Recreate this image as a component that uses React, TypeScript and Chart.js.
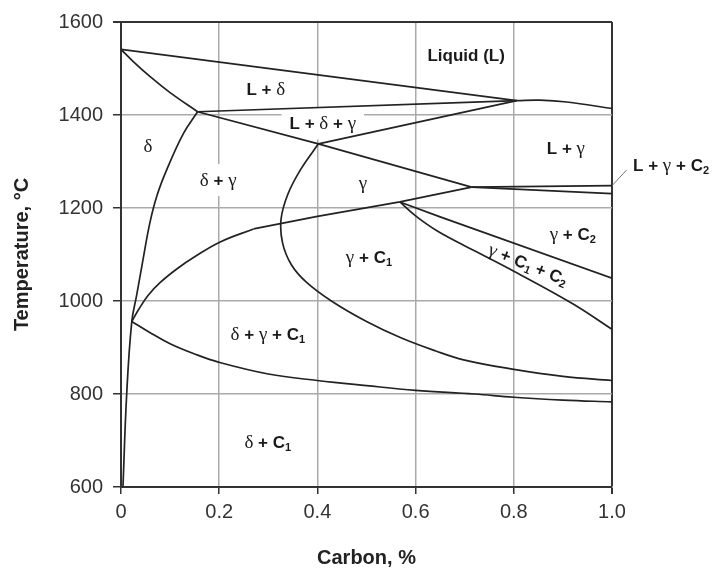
import React, { useEffect, useRef } from 'react';
import { Chart, registerables } from 'chart.js';

Chart.register(...registerables);

// ---- Axis ticks ----
const xTickLabels = ['0', '0.2', '0.4', '0.6', '0.8', '1.0'];
const yTickLabels = ['600', '800', '1000', '1200', '1400', '1600'];

// ---- Phase boundary curves (carbon %, temperature °C) ----
const liquidusX = [0, 0.806];
const liquidusT = [1541, 1431];
const liquidus2X = [0.806, 0.853, 0.908, 1.0];
const liquidus2T = [1431, 1432, 1428, 1414];
const deltaSolidusX = [0, 0.025, 0.06, 0.1, 0.156];
const deltaSolidusT = [1541, 1515, 1482, 1448, 1407];
const peritecticX = [0.156, 0.806];
const peritecticT = [1407, 1431];
const gammaSolidusX = [0.156, 0.402, 0.714];
const gammaSolidusT = [1407, 1338, 1245];
const ldgX = [0.402, 0.806];
const ldgT = [1338, 1431];
const sliverUpperX = [0.714, 1.0];
const sliverUpperT = [1245, 1248];
const sliverLowerX = [0.714, 1.0];
const sliverLowerT = [1245, 1231];
const deltaBoundaryX = [0.156, 0.127, 0.093, 0.073, 0.059, 0.045, 0.032, 0.022, 0.0116, 0.004];
const deltaBoundaryT = [1407, 1360, 1282, 1226, 1169, 1090, 1013, 956, 800, 600];
const c1SolvusX = [0.022, 0.035, 0.055, 0.08, 0.115, 0.15, 0.2, 0.27];
const c1SolvusT = [956, 980, 1012, 1040, 1070, 1095, 1126, 1155];
const c1Solvus2X = [0.27, 0.4, 0.568, 0.714];
const c1Solvus2T = [1155, 1182, 1213, 1245];
const c2UpperX = [0.568, 0.65, 1.0];
const c2UpperT = [1213, 1181, 1049];
const c2LowerX = [0.568, 0.6, 0.645, 0.72, 0.8, 0.92, 1.0];
const c2LowerT = [1213, 1183, 1150, 1108, 1064, 994, 939];
const gammaCurveX = [0.402, 0.366, 0.34, 0.326, 0.329, 0.347, 0.378, 0.43, 0.5, 0.57, 0.64, 0.7, 0.8, 0.9, 1.0];
const gammaCurveT = [1338, 1283, 1230, 1176, 1125, 1078, 1040, 999, 956, 921, 893, 873, 853, 838, 829];
const deltaC1X = [0.022, 0.056, 0.1, 0.15, 0.2, 0.3, 0.4, 0.5, 0.6, 0.72, 0.8, 0.9, 1.0];
const deltaC1T = [956, 934, 908, 886, 868, 843, 829, 818, 808, 800, 793, 787, 783];
const leaderX = [1.0, 1.03];
const leaderT = [1248, 1282];

// ---- Region labels ----
const labelText = ['Liquid (L)', 'L + δ', 'L + δ + γ', 'δ', 'δ + γ', 'γ', 'L + γ', 'L + γ + C2', 'γ + C2', 'γ + C1 + C2', 'γ + C1', 'δ + γ + C1', 'δ + C1'];
const labelX = [0.703, 0.295, 0.411, 0.055, 0.198, 0.493, 0.906, 1.043, 0.92, 0.829, 0.505, 0.299, 0.299];
const labelT = [1529, 1456, 1382, 1333, 1260, 1254, 1328, 1293, 1144, 1079, 1094, 928, 696];

// label styling (by index)
const boxedLabels = new Set([0, 2, 4]);
const leftAlignedLabels = new Set([7]);
const rotatedLabels: Record<number, number> = { 9: 22 };

const LINE = '#222';

function pts(xs: number[], ys: number[]) {
  return xs.map((x, i) => ({ x, y: ys[i] }));
}

type Seg = { kind: 'b' | 'g' | 's'; text: string };
function segments(text: string): Seg[] {
  const segs: Seg[] = [];
  for (let i = 0; i < text.length; i++) {
    const ch = text[i];
    let kind: Seg['kind'] = 'b';
    if (/[δγ]/.test(ch)) kind = 'g';
    else if (/\d/.test(ch) && text[i - 1] === 'C') kind = 's';
    const last = segs[segs.length - 1];
    if (last && last.kind === kind) last.text += ch;
    else segs.push({ kind, text: ch });
  }
  return segs;
}
const FONTS = {
  b: 'bold 17px "Liberation Sans", Arial, sans-serif',
  g: '19px "Liberation Serif", "DejaVu Serif", serif',
  s: 'bold 11px "Liberation Sans", Arial, sans-serif',
};
const DY = { b: 0, g: 0, s: 3 };

function measure(ctx: CanvasRenderingContext2D, segs: Seg[]) {
  let w = 0;
  for (const s of segs) {
    ctx.font = FONTS[s.kind];
    w += ctx.measureText(s.text).width;
  }
  return w;
}

const labelPlugin = {
  id: 'phaseLabels',
  beforeDatasetsDraw(chart: any) {
    const { ctx, scales } = chart;
    ctx.save();
    labelText.forEach((t, i) => {
      if (!boxedLabels.has(i)) return;
      const segs = segments(t);
      const w = measure(ctx, segs);
      const px = scales.x.getPixelForValue(labelX[i]);
      const py = scales.y.getPixelForValue(labelT[i]);
      ctx.fillStyle = '#ffffff';
      ctx.fillRect(px - w / 2 - 8, py - 16, w + 16, 32);
    });
    ctx.restore();
  },
  afterDatasetsDraw(chart: any) {
    const { ctx, scales } = chart;
    labelText.forEach((t, i) => {
      const segs = segments(t);
      const px = scales.x.getPixelForValue(labelX[i]);
      const py = scales.y.getPixelForValue(labelT[i]);
      ctx.save();
      ctx.translate(px, py);
      if (rotatedLabels[i]) ctx.rotate((rotatedLabels[i] * Math.PI) / 180);
      const w = measure(ctx, segs);
      let x = leftAlignedLabels.has(i) ? 0 : -w / 2;
      ctx.fillStyle = '#1a1a1a';
      ctx.textBaseline = 'alphabetic';
      ctx.textAlign = 'left';
      for (const s of segs) {
        ctx.font = FONTS[s.kind];
        ctx.fillText(s.text, x, 6 + DY[s.kind]);
        x += ctx.measureText(s.text).width;
      }
      ctx.restore();
    });
  },
};

export default function App() {
  const ref = useRef<HTMLCanvasElement | null>(null);

  useEffect(() => {
    document.body.style.margin = '0';
    if (!ref.current) return;
    const curves: [number[], number[], number][] = [
      [liquidusX, liquidusT, 0],
      [liquidus2X, liquidus2T, 0.4],
      [deltaSolidusX, deltaSolidusT, 0.4],
      [peritecticX, peritecticT, 0],
      [gammaSolidusX, gammaSolidusT, 0],
      [ldgX, ldgT, 0],
      [sliverUpperX, sliverUpperT, 0],
      [sliverLowerX, sliverLowerT, 0],
      [deltaBoundaryX, deltaBoundaryT, 0.4],
      [c1SolvusX, c1SolvusT, 0.4],
      [c1Solvus2X, c1Solvus2T, 0],
      [c2UpperX, c2UpperT, 0],
      [c2LowerX, c2LowerT, 0.4],
      [gammaCurveX, gammaCurveT, 0.4],
      [deltaC1X, deltaC1T, 0.4],
    ];
    const datasets: any[] = curves.map(([xs, ys, tension]) => ({
      data: pts(xs, ys),
      showLine: true,
      borderColor: LINE,
      borderWidth: 1.7,
      pointRadius: 0,
      tension,
      fill: false,
    }));
    datasets.push({
      data: pts(leaderX, leaderT),
      showLine: true,
      borderColor: '#777',
      borderWidth: 1,
      pointRadius: 0,
      tension: 0,
      clip: false,
    });

    const chart = new Chart(ref.current, {
      type: 'scatter',
      data: { datasets },
      plugins: [labelPlugin],
      options: {
        animation: false,
        responsive: true,
        maintainAspectRatio: false,
        devicePixelRatio: 1,
        layout: { padding: { top: 17, right: 105, left: 0, bottom: 0 } },
        plugins: { legend: { display: false }, tooltip: { enabled: false } },
        scales: {
          x: {
            type: 'linear',
            min: 0,
            max: 1,
            afterFit: (s: any) => {
              s.height = 81;
            },
            ticks: {
              stepSize: 0.2,
              callback: (_v: any, i: number) => xTickLabels[i] ?? '',
              font: { family: '"Liberation Sans", Arial, sans-serif', size: 20 },
              color: '#333',
              padding: 6,
              maxRotation: 0,
            },
            grid: {
              color: (c: any) => (c.tick && c.tick.value >= 0.999 ? '#333' : '#aaa'),
              lineWidth: (c: any) => (c.tick && c.tick.value >= 0.999 ? 2 : 1.5),
              tickColor: '#333',
              tickLength: 7,
            },
            border: { color: '#333', width: 2 },
            title: {
              display: true,
              text: 'Carbon, %',
              color: '#222',
              font: { family: '"Liberation Sans", Arial, sans-serif', size: 20, weight: 'bold', lineHeight: 1 },
              padding: { bottom: 0, top: 0 },
            },
          },
          y: {
            type: 'linear',
            min: 600,
            max: 1600,
            afterFit: (s: any) => {
              s.width = 121;
            },
            ticks: {
              stepSize: 200,
              callback: (_v: any, i: number) => yTickLabels[i] ?? '',
              font: { family: '"Liberation Sans", Arial, sans-serif', size: 20 },
              color: '#333',
              padding: 10,
            },
            grid: {
              color: (c: any) => (c.tick && c.tick.value >= 1600 ? '#333' : '#aaa'),
              lineWidth: (c: any) => (c.tick && c.tick.value >= 1600 ? 2 : 1.5),
              tickColor: '#333',
              tickLength: 8,
            },
            border: { color: '#333', width: 2 },
            title: {
              display: true,
              text: 'Temperature, °C',
              color: '#222',
              font: { family: '"Liberation Sans", Arial, sans-serif', size: 20, weight: 'bold', lineHeight: 1 },
              padding: { top: 12, bottom: 0 },
            },
          },
        },
      },
    });
    return () => chart.destroy();
  }, []);

  return (
    <div style={{ position: 'fixed', left: 0, top: 0, width: 717, height: 568 }}>
      <canvas ref={ref} />
    </div>
  );
}
